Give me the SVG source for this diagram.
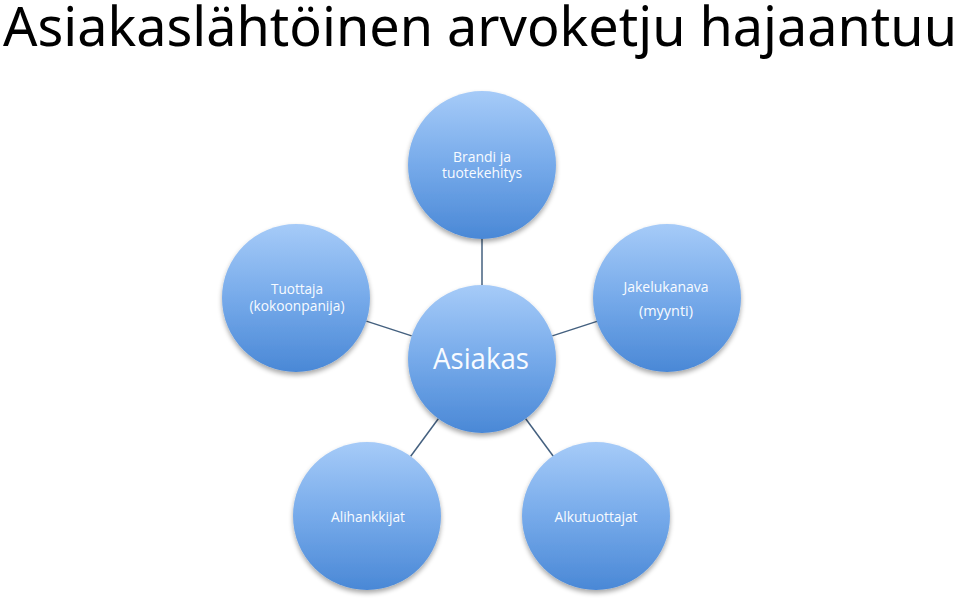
<svg xmlns="http://www.w3.org/2000/svg" width="960" height="598" viewBox="0 0 960 598">
<defs>
<linearGradient id="g" x1="0" y1="0" x2="0" y2="1">
<stop offset="0" stop-color="#a6cbf8"/>
<stop offset="0.5" stop-color="#76aaea"/>
<stop offset="1" stop-color="#4a88d6"/>
</linearGradient>
<filter id="sh" x="-20%" y="-20%" width="140%" height="150%">
<feGaussianBlur in="SourceAlpha" stdDeviation="2.5"/>
<feOffset dx="0" dy="2.5" result="b"/>
<feComponentTransfer><feFuncA type="linear" slope="0.35"/></feComponentTransfer>
<feMerge><feMergeNode/><feMergeNode in="SourceGraphic"/></feMerge>
</filter>
</defs>
<style>
.c{fill:url(#g);filter:url(#sh)}
.t{font-family:"Open Sans","Noto Sans","Liberation Sans",sans-serif;fill:#f8fbff;text-anchor:middle;font-size:15px}
.big{font-size:30px}
.ln{stroke:#44607f;stroke-width:1.5;fill:none}
</style>
<rect width="960" height="598" fill="#ffffff"/>
<text x="3" y="46" font-family="'Noto Sans','Open Sans','Liberation Sans',sans-serif" font-size="54" fill="#000" textLength="954" lengthAdjust="spacingAndGlyphs">Asiakaslähtöinen arvoketju hajaantuu</text>
<g id="connectors">
<line class="ln" x1="482" y1="239" x2="482" y2="285"/>
<line class="ln" x1="411.7" y1="335.9" x2="366.3" y2="321.1"/>
<line class="ln" x1="552.3" y1="335.9" x2="597.7" y2="321.1"/>
<line class="ln" x1="438.3" y1="418.7" x2="410.7" y2="456.3"/>
<line class="ln" x1="525.7" y1="418.7" x2="553.3" y2="456.3"/>
</g>
<g id="n-brandi">
<circle class="c" cx="482" cy="165" r="74"/>
<text class="t" x="482" y="162" textLength="58" lengthAdjust="spacingAndGlyphs">Brandi ja</text>
<text class="t" x="482" y="178" textLength="80" lengthAdjust="spacingAndGlyphs">tuotekehitys</text>
</g>
<g id="n-tuottaja">
<circle class="c" cx="296" cy="298" r="74"/>
<text class="t" x="297" y="294" textLength="52" lengthAdjust="spacingAndGlyphs">Tuottaja</text>
<text class="t" x="297" y="311" textLength="95" lengthAdjust="spacingAndGlyphs">(kokoonpanija)</text>
</g>
<g id="n-jakelu">
<circle class="c" cx="667" cy="298" r="74"/>
<text class="t" x="666" y="292" textLength="85" lengthAdjust="spacingAndGlyphs">Jakelukanava</text>
<text class="t" x="666" y="316" textLength="54" lengthAdjust="spacingAndGlyphs">(myynti)</text>
</g>
<g id="n-asiakas">
<circle class="c" cx="482" cy="359" r="74"/>
<text class="t big" x="481" y="369" textLength="96" lengthAdjust="spacingAndGlyphs">Asiakas</text>
</g>
<g id="n-alihankkijat">
<circle class="c" cx="367" cy="516" r="74"/>
<text class="t" x="368" y="522" textLength="74" lengthAdjust="spacingAndGlyphs">Alihankkijat</text>
</g>
<g id="n-alkutuottajat">
<circle class="c" cx="596" cy="516" r="74"/>
<text class="t" x="596" y="522" textLength="83" lengthAdjust="spacingAndGlyphs">Alkutuottajat</text>
</g>
</svg>
